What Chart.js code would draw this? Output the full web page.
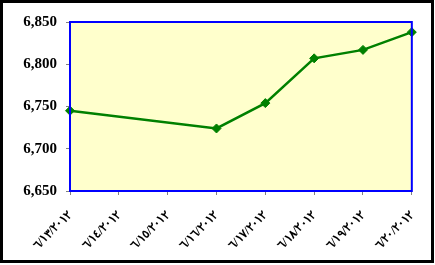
<!DOCTYPE html>
<html>
<head>
<meta charset="utf-8">
<script src="https://cdn.jsdelivr.net/npm/chart.js@4.4.1/dist/chart.umd.min.js"></script>
<style>
  html, body { margin: 0; padding: 0; background: #ffffff; }
  #wrap { width: 435px; height: 265px; }
</style>
</head>
<body>
<div id="wrap"><canvas id="priceChart" width="435" height="265"></canvas></div>
<script>
// dates in Arabic-Indic digits, 6/13/2012 .. 6/20/2012
var dates = ['٦/١٣/٢٠١٢', '٦/١٤/٢٠١٢', '٦/١٥/٢٠١٢', '٦/١٦/٢٠١٢', '٦/١٧/٢٠١٢', '٦/١٨/٢٠١٢', '٦/١٩/٢٠١٢', '٦/٢٠/٢٠١٢'];
var values = [6745, null, null, 6724, 6754, 6807, 6817, 6838];
var yTicks = [6650, 6700, 6750, 6800, 6850];

// chart-wide frame + yellow plot area
var framePlugin = {
    id: 'framePlugin',
    beforeDraw: function (chart) {
        var ctx = chart.ctx, a = chart.chartArea;
        ctx.save();
        ctx.fillStyle = '#ffffff';
        ctx.fillRect(0, 0, chart.width, chart.height);
        ctx.fillStyle = '#FFFFCC';
        ctx.fillRect(a.left, a.top, a.right - a.left, a.bottom - a.top);
        ctx.restore();
    },
    afterDatasetsDraw: function (chart) {
        var ctx = chart.ctx, a = chart.chartArea;
        ctx.save();
        ctx.strokeStyle = '#0000FF';
        ctx.lineWidth = 2;
        ctx.strokeRect(a.left, a.top, a.right - a.left, a.bottom - a.top);
        ctx.strokeStyle = '#000000';
        ctx.lineWidth = 3;
        ctx.strokeRect(1.5, 1.5, 431, 260);
        ctx.restore();
    }
};

var ctx = document.getElementById('priceChart').getContext('2d');

var priceChart = new Chart(ctx, {
    type: 'line',
    data: {
        labels: dates,
        datasets: [{
            data: values,
            borderColor: '#008000',
            backgroundColor: '#008000',
            borderWidth: 2.5,
            pointStyle: 'rectRot',
            pointRadius: 4.5,
            pointBorderWidth: 1,
            spanGaps: true,
            tension: 0
        }]
    },
    options: {
        responsive: false,
        animation: false,
        layout: { padding: { top: 22, right: 23, left: 0, bottom: 0 } },
        plugins: {
            legend: { display: false },
            tooltip: { enabled: false }
        },
        scales: {
            x: {
                offset: false,
                grid: { drawOnChartArea: false, color: '#808080', tickLength: 4 },
                border: { display: false },
                ticks: {
                    autoSkip: false,
                    maxRotation: 45,
                    minRotation: 45,
                    padding: 13,
                    color: '#000000',
                    font: { family: 'Liberation Serif', size: 12, weight: 'bold' }
                },
                afterFit: function (s) { s.height = 74; }
            },
            y: {
                min: 6650,
                max: 6850,
                afterBuildTicks: function (s) { s.ticks = yTicks.map(function (v) { return { value: v }; }); },
                grid: { drawOnChartArea: false, color: '#808080', tickLength: 4 },
                border: { display: false },
                ticks: {
                    padding: 9,
                    color: '#000000',
                    font: { family: 'Liberation Serif', size: 15, weight: 'bold' },
                    callback: function (v) { return v.toLocaleString('en-US'); }
                },
                afterFit: function (s) { s.width = 70; }
            }
        }
    },
    plugins: [framePlugin]
});
</script>
</body>
</html>
